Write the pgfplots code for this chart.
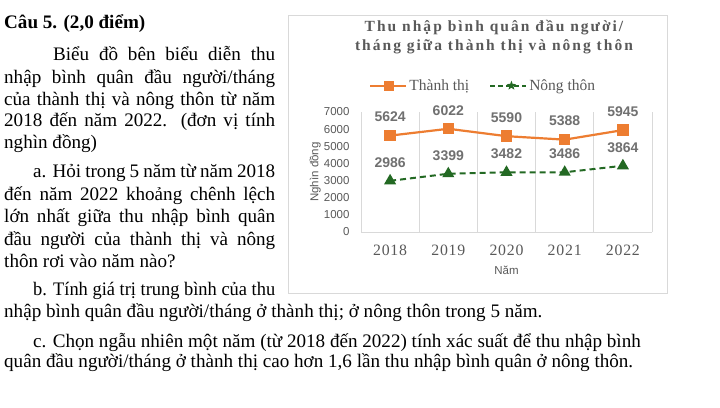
\documentclass[border=0pt]{standalone}
\usepackage{fontspec}
\usepackage{graphicx}
\setmainfont{Liberation Serif}
\setsansfont{Liberation Sans}
\newfontfamily\titlefont[LetterSpace=13]{Liberation Serif}
\newfontfamily\yearfont[LetterSpace=5]{Liberation Serif}
\usepackage{pgfplots}
\pgfplotsset{compat=1.18}
\usetikzlibrary{shapes.geometric}
\definecolor{orangeC}{HTML}{ED7D31}
\definecolor{greenC}{RGB}{35,105,35}
\definecolor{textgray}{HTML}{595959}
\definecolor{labgray}{HTML}{707070}
\definecolor{gridgray}{HTML}{D9D9D9}
\newcommand{\bodyfont}{\fontsize{19.1bp}{22.5bp}\selectfont}
\newcommand{\jl}[4]{\node[anchor=base west, inner sep=0pt] at (#1bp,-#2bp) {\bodyfont\makebox[#3bp][s]{#4}};}
\newcommand{\nl}[3]{\node[anchor=base west, inner sep=0pt] at (#1bp,-#2bp) {\bodyfont #3};}
\begin{document}
\begin{tikzpicture}
\useasboundingbox (0,0) rectangle (720bp,-408bp);
\fill[white] (0,0) rectangle (720bp,-408bp);
% body text
\nl{4}{28}{\bfseries Câu 5. (2,0 điểm)}
\jl{53}{60}{222}{Biểu đồ bên biểu diễn thu}
\jl{4}{83}{271}{nhập bình quân đầu người/tháng}
\jl{4}{105}{271}{của thành thị và nông thôn từ năm}
\jl{4}{126}{271}{2018 đến năm 2022. (đơn vị tính}
\nl{4}{148}{nghìn đồng)}
\jl{33}{177}{242}{a. Hỏi trong 5 năm từ năm 2018}
\jl{4}{200}{271}{đến năm 2022 khoảng chênh lệch}
\jl{4}{222}{271}{lớn nhất giữa thu nhập bình quân}
\jl{4}{245}{271}{đầu người của thành thị và nông}
\nl{4}{267}{thôn rơi vào năm nào?}
\node[anchor=base west, inner sep=0pt] at (33bp,-295bp) {\bodyfont\resizebox{242bp}{\height}{b. Tính giá trị trung bình của thu}};
\nl{4}{317}{nhập bình quân đầu người/tháng ở thành thị; ở nông thôn trong 5 năm.}
\nl{33}{347}{c. Chọn ngẫu nhiên một năm (từ 2018 đến 2022) tính xác suất để thu nhập bình}
\nl{4}{367}{quân đầu người/tháng ở thành thị cao hơn 1,6 lần thu nhập bình quân ở nông thôn.}
% chart frame
\draw[gridgray, line width=1bp] (288bp,-15bp) rectangle (667bp,-293bp);
\node[anchor=base, inner sep=0pt, text=textgray] at (494bp,-31bp) {\titlefont\bfseries\fontsize{15.5bp}{17bp}\selectfont Thu nhập bình quân đầu người/};
\node[anchor=base, inner sep=0pt, text=textgray] at (494bp,-50bp) {\titlefont\bfseries\fontsize{15.5bp}{17bp}\selectfont tháng giữa thành thị và nông thôn};
\begin{axis}[
  at={(361bp,-232bp)}, anchor=south west,
  scale only axis, width=291bp, height=120bp,
  xmin=0.5, xmax=5.5, ymin=0, ymax=7000,
  xtick={1,2,3,4,5}, xticklabels={2018,2019,2020,2021,2022},
  minor xtick={0.5,1.5,2.5,3.5,4.5,5.5},
  xminorgrids, minor grid style={gridgray, line width=0.8bp},
  ytick={0,1000,2000,3000,4000,5000,6000,7000},
  major tick length=0pt, minor tick length=0pt,
  axis x line*=bottom, axis y line*=left,
  x axis line style={gridgray, line width=0.8bp, -},
  y axis line style={draw=none},
  /pgf/number format/.cd, 1000 sep={}, assume math mode=true, /pgfplots/.cd,
  xticklabel style={font=\yearfont\fontsize{15.8bp}{18bp}\selectfont, text=textgray, yshift=-9bp},
  yticklabel style={font=\sffamily\fontsize{11.5bp}{13bp}\selectfont, text=textgray, xshift=-8bp},
  ylabel={Nghìn đồng},
  ylabel style={font=\sffamily\fontsize{11.5bp}{13bp}\selectfont, text=textgray, at={(axis description cs:-0.158,0.5)}, anchor=center},
  xlabel={Năm},
  xlabel style={font=\sffamily\fontsize{11.5bp}{13bp}\selectfont, text=textgray, at={(axis description cs:0.5,-0.317)}, anchor=center},
  legend style={draw=none, fill=none, at={(axis description cs:0.42,1.22)}, anchor=center,
    font=\fontsize{15.5bp}{17bp}\selectfont, text=textgray,
    /tikz/every even column/.append style={column sep=18bp}},
  legend columns=2,
  legend cell align=left,
]
\addlegendimage{legend image code/.code={
  \draw[orangeC, line width=2.2bp] (0bp,0bp) -- (36bp,0bp);
  \fill[orangeC] (13.5bp,-4.5bp) rectangle (22.5bp,4.5bp);}}
\addlegendentry{Thành thị}
\addlegendimage{legend image code/.code={
  \draw[greenC, line width=2bp, dash pattern=on 5bp off 3bp] (0bp,0bp) -- (36bp,0bp);
  \node[star, star points=5, star point ratio=2.4, fill=greenC, inner sep=0pt, minimum size=10bp] at (18bp,0bp) {};}}
\addlegendentry{Nông thôn}
\addplot[orangeC, line width=2.2bp, mark=square*, mark size=4.6bp, mark options={solid}, forget plot,
  nodes near coords,
  every node near coord/.append style={font=\sffamily\bfseries\fontsize{14bp}{16bp}\selectfont, text=labgray, anchor=center, yshift=18.5bp}]
  coordinates {(1,5624) (2,6022) (3,5590) (4,5388) (5,5945)};
\addplot[greenC, line width=2bp, dash pattern=on 6bp off 4bp, mark=triangle*, mark size=5bp, mark options={solid}, forget plot,
  nodes near coords,
  every node near coord/.append style={font=\sffamily\bfseries\fontsize{14bp}{16bp}\selectfont, text=labgray, anchor=center, yshift=18.5bp}]
  coordinates {(1,2986) (2,3399) (3,3482) (4,3486) (5,3864)};
\end{axis}
\end{tikzpicture}
\end{document}
